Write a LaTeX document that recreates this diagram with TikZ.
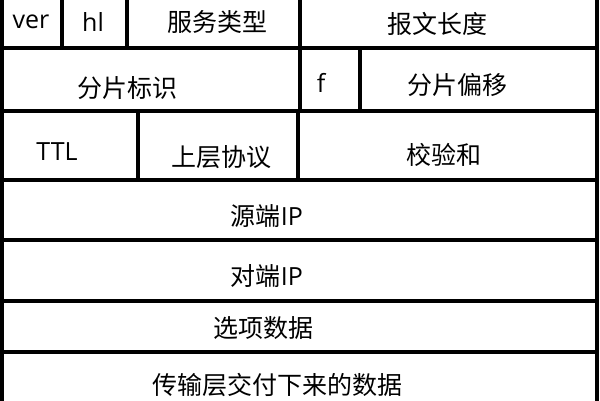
\documentclass[tikz,border=0pt]{standalone}
\usepackage{fontspec}
\setmainfont{Open Sans}
\newfontfamily\cjk{Noto Sans CJK SC}
\begin{document}
\begin{tikzpicture}[x=1pt,y=-1pt,
  gridline/.style={line width=3.2pt,black},
  lbl/.style={inner sep=0pt,anchor=center,font=\fontsize{25}{30}\selectfont}]
\useasboundingbox (0,0) rectangle (600,400);
% outer verticals
\draw[gridline] (2,-5) -- (2,405);
\draw[gridline] (597,-5) -- (597,405);
% row separators
\foreach \y in {48,111,180,240,301,352}
  \draw[gridline] (2,\y) -- (597,\y);
% row 1 dividers
\draw[gridline] (62,-5) -- (62,48);
\draw[gridline] (127,-5) -- (127,48);
\draw[gridline] (300,-5) -- (300,48);
% row 2 dividers
\draw[gridline] (300,48) -- (300,111);
\draw[gridline] (360,48) -- (360,111);
% row 3 dividers
\draw[gridline] (138,111) -- (138,180);
\draw[gridline] (298,111) -- (298,180);
% labels
\node[lbl] (ver) at (31,22) {ver};
\node[lbl] (hl) at (93,22) {hl};
\node[lbl] (tos) at (217,22) {\cjk 服务类型};
\node[lbl] (len) at (437,24) {\cjk 报文长度};
\node[lbl] (id) at (127,88) {\cjk 分片标识};
\node[lbl] (flag) at (321,83) {f};
\node[lbl] (off) at (457,85) {\cjk 分片偏移};
\node[lbl] (ttl) at (57,152) {TTL};
\node[lbl] (proto) at (221,157) {\cjk 上层协议};
\node[lbl] (sum) at (444,155) {\cjk 校验和};
\node[lbl] (src) at (267,216) {{\cjk 源端}IP};
\node[lbl] (dst) at (267,276) {{\cjk 对端}IP};
\node[lbl] (opt) at (263,328) {\cjk 选项数据};
\node[lbl] (data) at (277,385) {\cjk 传输层交付下来的数据};
\end{tikzpicture}
\end{document}
